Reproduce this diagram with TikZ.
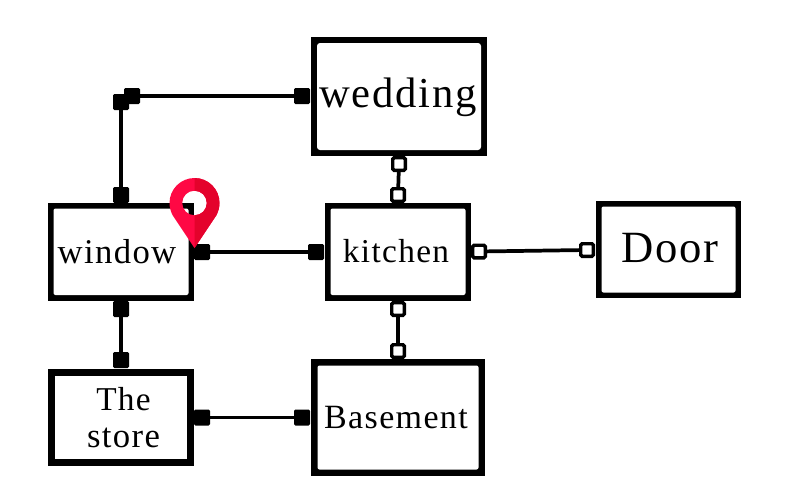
\documentclass[tikz,border=0pt]{standalone}
\usepackage{fontspec}
\setmainfont{Liberation Serif}
\newfontfamily\lblfont[LetterSpace=4]{Liberation Serif}
\newcommand{\roomrect}[6]{% x0 y0 x1 y1 lw radius
  \fill[black] (#1,#2) rectangle (#3,#4);
  \fill[white,rounded corners=#6*0.75pt] (#1+#5,#2+#5) rectangle (#3-#5,#4-#5);}
\tikzset{
  handle/.style={rectangle,inner sep=0pt,outer sep=0pt,rounded corners=1pt},
  solidh/.style={handle,fill=black,minimum size=12pt},
  hollowh/.style={handle,fill=white,draw=black,line width=2.6pt,minimum size=9.4pt},
  link/.style={line width=2.8pt,black},
  lbl/.style={inner sep=0pt,text=black,align=center}
}
\begin{document}
\begin{tikzpicture}[x=0.75pt,y=-0.75pt]
\useasboundingbox (0,0) rectangle (800,500);
\roomrect{311}{37}{487}{156}{6}{3}
\roomrect{48}{203}{194}{300.5}{5.5}{2}
\roomrect{325}{203}{471}{300.5}{5.5}{2}
\roomrect{596}{201}{741}{298}{5.5}{2}
\roomrect{48}{369}{194}{466}{7}{0}
\roomrect{311}{359}{485}{476}{6.5}{2}
\node[lbl,font=\lblfont\fontsize{32}{36}\selectfont] (wedding) at (398,97) {wedding};
\node[lbl,font=\lblfont\fontsize{26}{30}\selectfont] (window) at (117,252) {window};
\node[lbl,font=\lblfont\fontsize{25}{29}\selectfont] (kitchen) at (396,251) {kitchen};
\node[lbl,font=\lblfont\fontsize{33.5}{38}\selectfont] (door) at (670,248) {Door};
\node[lbl,font=\lblfont\fontsize{25}{29}\selectfont] (the) at (123.5,399) {The};
\node[lbl,font=\lblfont\fontsize{26}{30}\selectfont] (store) at (123.5,438) {store};
\node[lbl,font=\lblfont\fontsize{25.5}{29}\selectfont] (basement) at (396,417.5) {Basement};
% solid handles
\node[solidh] (a1) at (121,195) {};
\node[solidh] (a2) at (121,102) {};
\node[solidh] (a3) at (132,96) {};
\node[solidh] (a4) at (302,96) {};
\node[solidh] (b1) at (202,252) {};
\node[solidh] (b2) at (316,252) {};
\node[solidh] (c1) at (121,309) {};
\node[solidh] (c2) at (121,360) {};
\node[solidh] (d1) at (202,417.5) {};
\node[solidh] (d2) at (302,417.5) {};
% hollow handles
\node[hollowh] (e1) at (399,164) {};
\node[hollowh] (e2) at (398,195) {};
\node[hollowh] (f1) at (479,251.5) {};
\node[hollowh] (f2) at (587,250) {};
\node[hollowh] (g1) at (398,309) {};
\node[hollowh] (g2) at (398,351) {};
% connectors
\draw[link] (a1) -- (a2);
\draw[link] (a3) -- (a4);
\draw[link] (b1) -- (b2);
\draw[link] (c1) -- (c2);
\draw[link] (d1) -- (d2);
\draw[link] (e1) -- (e2);
\draw[link] (f1) -- (f2);
\draw[link] (g1) -- (g2);
% location pin
\def\pinpath{(194.5,248) -- (172.5,215) .. controls (170.5,211) and (169.5,207) .. (169.5,203)
  .. controls (169.5,189.2) and (180.7,178) .. (194.5,178)
  .. controls (208.3,178) and (219.5,189.2) .. (219.5,203)
  .. controls (219.5,207) and (218.5,211) .. (216.5,215) -- cycle
  (194.5,190.7) .. controls (187.7,190.7) and (182.2,196.2) .. (182.2,203)
  .. controls (182.2,209.8) and (187.7,215.3) .. (194.5,215.3)
  .. controls (201.3,215.3) and (206.8,209.8) .. (206.8,203)
  .. controls (206.8,196.2) and (201.3,190.7) .. (194.5,190.7) -- cycle}
\fill[even odd rule,fill={rgb,255:red,255;green,8;blue,68}] \pinpath;
\begin{scope}
\clip (194.5,170) rectangle (230,255);
\fill[even odd rule,fill={rgb,255:red,228;green,2;blue,44}] \pinpath;
\end{scope}
\end{tikzpicture}
\end{document}
